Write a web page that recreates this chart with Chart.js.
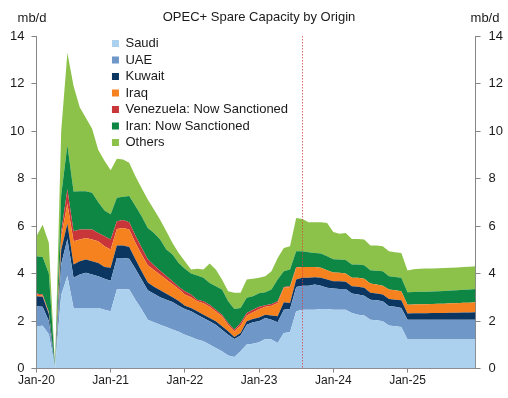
<!DOCTYPE html>
<html>
<head>
<meta charset="utf-8">
<script src="https://cdn.jsdelivr.net/npm/chart.js@4.4.1/dist/chart.umd.min.js"></script>
<style>
    html, body { margin: 0; padding: 0; background: #fff; }
    #wrap { width: 508px; height: 398px; position: relative; }
</style>
</head>
<body>
<div id="wrap"><canvas id="spareChart"></canvas></div>
<script>
// Category axis: monthly, Jan-20 .. Dec-25
const years = ['20', '21', '22', '23', '24', '25'];
const monthNames = ['Jan', 'Feb', 'Mar', 'Apr', 'May', 'Jun', 'Jul', 'Aug', 'Sep', 'Oct', 'Nov', 'Dec'];
const labels = [];
years.forEach(y => monthNames.forEach(m => labels.push(m + '-' + y)));

const yTicks = [0, 2, 4, 6, 8, 10, 12, 14];
const markerMonth = 'Aug-23';

// Spare capacity by origin, mb/d
const saudi = [
    1.78, 1.80, 1.45, 0.02, 3.10, 3.90, 2.55, 2.55, 2.55, 2.55, 2.55, 2.48,
    2.41, 3.33, 3.35, 3.33, 2.90, 2.50, 2.06, 1.95, 1.85, 1.75, 1.65, 1.55,
    1.43, 1.33, 1.22, 1.15, 1.01, 0.87, 0.73, 0.55, 0.49, 0.73, 1.01, 1.05,
    1.11, 1.25, 1.22, 1.08, 1.50, 1.53, 2.41, 2.48, 2.48, 2.48, 2.51, 2.51,
    2.48, 2.48, 2.48, 2.34, 2.27, 2.23, 2.06, 2.04, 1.99, 1.81, 1.78, 1.75,
    1.22, 1.22, 1.22, 1.22, 1.22, 1.22, 1.22, 1.22, 1.22, 1.22, 1.22, 1.22
];
const uae = [
    0.84, 0.80, 0.55, 0.01, 1.30, 1.55, 1.27, 1.41, 1.48, 1.41, 1.34, 1.30,
    1.29, 1.33, 1.31, 1.29, 1.30, 1.25, 1.24, 1.20, 1.15, 1.15, 1.15, 1.10,
    1.08, 1.08, 1.05, 0.98, 0.98, 0.98, 0.91, 0.88, 0.76, 0.66, 0.84, 0.90,
    0.88, 0.88, 0.84, 0.87, 0.98, 0.98, 1.03, 1.01, 1.01, 1.06, 0.98, 0.89,
    0.89, 0.87, 0.87, 0.82, 0.85, 0.84, 0.84, 0.84, 0.85, 0.81, 0.82, 0.80,
    0.84, 0.84, 0.84, 0.84, 0.84, 0.84, 0.84, 0.84, 0.84, 0.84, 0.84, 0.84
];
const kuwait = [
    0.43, 0.42, 0.30, 0.01, 0.60, 0.65, 0.56, 0.56, 0.56, 0.56, 0.56, 0.50,
    0.54, 0.52, 0.52, 0.50, 0.40, 0.35, 0.32, 0.30, 0.30, 0.25, 0.20, 0.20,
    0.14, 0.14, 0.14, 0.14, 0.14, 0.14, 0.14, 0.14, 0.08, 0.11, 0.14, 0.14,
    0.16, 0.14, 0.18, 0.25, 0.31, 0.25, 0.31, 0.33, 0.33, 0.31, 0.33, 0.35,
    0.31, 0.33, 0.31, 0.31, 0.33, 0.33, 0.29, 0.28, 0.28, 0.31, 0.30, 0.33,
    0.26, 0.27, 0.27, 0.27, 0.28, 0.28, 0.28, 0.29, 0.29, 0.30, 0.30, 0.31
];
const iraq = [
    0.07, 0.06, 0.05, 0.00, 0.55, 0.85, 0.98, 0.91, 0.91, 0.91, 0.91, 0.87,
    0.77, 0.70, 0.74, 0.73, 0.70, 0.70, 0.73, 0.70, 0.65, 0.60, 0.55, 0.50,
    0.47, 0.45, 0.43, 0.48, 0.47, 0.41, 0.42, 0.27, 0.23, 0.31, 0.24, 0.28,
    0.35, 0.33, 0.41, 0.56, 0.61, 0.68, 0.49, 0.46, 0.46, 0.43, 0.42, 0.39,
    0.37, 0.35, 0.34, 0.35, 0.37, 0.38, 0.39, 0.38, 0.37, 0.40, 0.40, 0.38,
    0.37, 0.37, 0.38, 0.38, 0.38, 0.39, 0.39, 0.40, 0.40, 0.41, 0.41, 0.42
];
const venezuela = [
    0.04, 0.04, 0.03, 0.00, 0.20, 0.60, 0.42, 0.42, 0.35, 0.42, 0.35, 0.42,
    0.42, 0.32, 0.33, 0.31, 0.30, 0.30, 0.25, 0.20, 0.17, 0.15, 0.13, 0.10,
    0.14, 0.12, 0.06, 0.09, 0.09, 0.08, 0.07, 0.08, 0.08, 0.11, 0.11, 0.11,
    0.10, 0.07, 0.07, 0.08, 0.04, 0.03, 0.04, 0.00, 0.00, 0.00, 0.00, 0.00,
    0.00, 0.00, 0.00, 0.00, 0.00, 0.00, 0.00, 0.00, 0.00, 0.00, 0.00, 0.00,
    0.00, 0.00, 0.00, 0.00, 0.00, 0.00, 0.00, 0.00, 0.00, 0.00, 0.00, 0.00
];
const iran = [
    1.57, 1.58, 1.62, 0.05, 1.55, 1.85, 1.67, 1.62, 1.62, 1.55, 1.29, 1.08,
    1.07, 0.99, 0.98, 1.10, 1.24, 1.31, 1.32, 1.36, 1.31, 1.11, 1.12, 1.00,
    0.94, 0.88, 1.02, 0.98, 0.91, 0.99, 1.06, 0.92, 0.87, 0.63, 0.64, 0.57,
    0.57, 0.54, 0.61, 0.91, 0.66, 0.70, 0.66, 0.66, 0.62, 0.59, 0.60, 0.59,
    0.55, 0.56, 0.57, 0.56, 0.56, 0.57, 0.56, 0.58, 0.61, 0.56, 0.56, 0.56,
    0.52, 0.52, 0.52, 0.53, 0.53, 0.53, 0.54, 0.54, 0.55, 0.55, 0.56, 0.56
];
const others = [
    0.84, 1.35, 1.30, 0.02, 2.70, 3.90, 4.45, 3.53, 3.08, 2.70, 2.20, 2.10,
    1.85, 1.64, 1.57, 1.40, 1.26, 1.19, 1.20, 0.99, 0.84, 0.77, 0.49, 0.42,
    0.32, 0.17, 0.28, 0.35, 0.82, 0.70, 0.42, 0.42, 0.68, 0.64, 0.77, 0.73,
    0.65, 0.68, 0.77, 0.91, 0.98, 0.98, 1.40, 1.36, 1.26, 1.29, 1.32, 1.40,
    1.15, 1.09, 1.14, 1.08, 1.08, 1.08, 1.04, 1.06, 1.05, 1.05, 1.04, 1.05,
    0.92, 0.96, 0.97, 0.97, 0.96, 0.96, 0.96, 0.95, 0.96, 0.96, 0.96, 0.96
];

const FONT = '"Liberation Sans", Arial, sans-serif';
const AXIS = '#868686';
const TEXT = '#1a1a1a';

function area(label, data, color, fill) {
    return {
        label: label,
        data: data,
        backgroundColor: color,
        borderColor: color,
        borderWidth: 0,
        pointRadius: 0,
        pointHoverRadius: 0,
        tension: 0,
        fill: fill
    };
}

// Title, unit labels, sanction marker and legend placement
const decorations = {
    id: 'decorations',
    beforeDraw(chart) {
        const area = chart.chartArea;
        chart.legend.left = area.left + 72;
        chart.legend.top = 33.5;
    },
    afterDatasetsDraw(chart) {
        const ctx = chart.ctx;
        const x = Math.round(chart.scales.x.getPixelForValue(labels.indexOf(markerMonth))) + 0.5;
        ctx.save();
        ctx.strokeStyle = 'rgba(214, 60, 60, 0.75)';
        ctx.lineWidth = 1;
        ctx.setLineDash([1.5, 1.5]);
        ctx.beginPath();
        ctx.moveTo(x, chart.chartArea.top);
        ctx.lineTo(x, chart.chartArea.bottom);
        ctx.stroke();
        ctx.restore();
    },
    afterDraw(chart) {
        const ctx = chart.ctx;
        ctx.save();
        ctx.fillStyle = TEXT;
        ctx.font = '13px ' + FONT;
        ctx.textAlign = 'center';
        ctx.textBaseline = 'middle';
        ctx.fillText('OPEC+ Spare Capacity by Origin', 259, 17);
        ctx.fillText('mb/d', 32, 18);
        ctx.fillText('mb/d', 485, 18);
        ctx.restore();
    }
};

const tickStyle = {
    color: TEXT,
    font: { family: FONT, size: 13 }
};

new Chart(document.getElementById('spareChart').getContext('2d'), {
    type: 'line',
    data: {
        labels: labels,
        datasets: [
            area('Saudi', saudi, '#abd1ee', 'origin'),
            area('UAE', uae, '#6f98c8', '-1'),
            area('Kuwait', kuwait, '#0b3661', '-1'),
            area('Iraq', iraq, '#f5821f', '-1'),
            area('Venezuela: Now Sanctioned', venezuela, '#c9363a', '-1'),
            area('Iran: Now Sanctioned', iran, '#0d8743', '-1'),
            area('Others', others, '#8cc24a', '-1')
        ]
    },
    options: {
        responsive: true,
        maintainAspectRatio: false,
        animation: false,
        layout: {
            padding: { left: 3, right: -3, top: 36, bottom: 9 }
        },
        plugins: {
            legend: {
                position: 'chartArea',
                align: 'start',
                labels: {
                    boxWidth: 7,
                    boxHeight: 7,
                    padding: 3.5,
                    color: TEXT,
                    font: { family: FONT, size: 13 }
                }
            },
            title: { display: false },
            tooltip: { enabled: false }
        },
        scales: {
            x: {
                offset: false,
                border: { color: AXIS },
                grid: {
                    drawOnChartArea: false,
                    tickLength: 4,
                    tickColor: ctx => ctx.index % 12 === 0 ? AXIS : 'rgba(0,0,0,0)'
                },
                ticks: {
                    autoSkip: false,
                    maxRotation: 0,
                    padding: 1,
                    color: TEXT,
                    font: { family: FONT, size: 12 },
                    callback: (value, index) => index % 12 === 0 ? labels[index] : ''
                }
            },
            y: {
                stacked: true,
                min: yTicks[0],
                max: yTicks[yTicks.length - 1],
                border: { color: AXIS },
                grid: { drawOnChartArea: false, tickLength: 5, tickColor: AXIS },
                ticks: Object.assign({ stepSize: 2, padding: 7 }, tickStyle)
            },
            y2: {
                display: true,
                position: 'right',
                min: yTicks[0],
                max: yTicks[yTicks.length - 1],
                border: { color: AXIS },
                grid: { drawOnChartArea: false, tickLength: 5, tickColor: AXIS },
                ticks: Object.assign({ stepSize: 2, padding: 8 }, tickStyle)
            }
        }
    },
    plugins: [decorations]
});
</script>
</body>
</html>
